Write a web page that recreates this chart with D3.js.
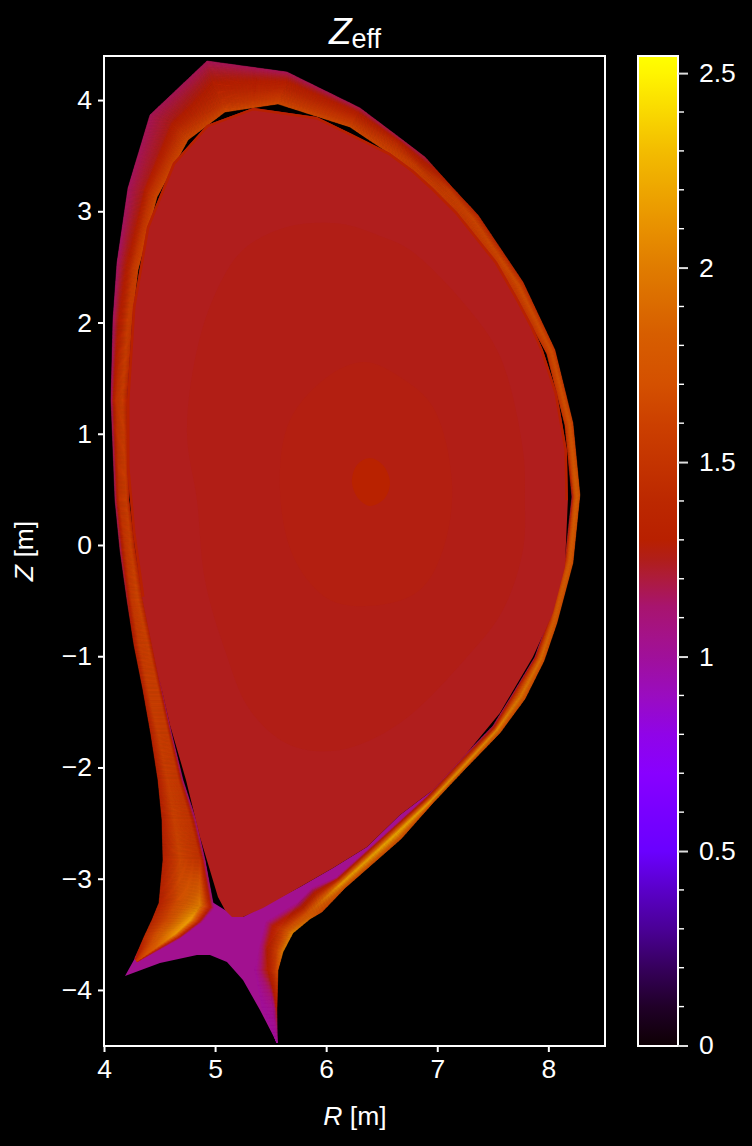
<!DOCTYPE html>
<html><head><meta charset="utf-8">
<script src="https://cdn.jsdelivr.net/npm/d3@7"></script>
<style>html,body{margin:0;padding:0;background:#000}svg{display:block}text{font-family:"Liberation Sans",Arial,sans-serif;fill:#fff}</style>
</head><body><svg id="c" width="752" height="1146"></svg>
<script>
// tick values
const rTicks=[4,5,6,7,8], zTicks=[-4,-3,-2,-1,0,1,2,3,4];
const cbMajor=[0,0.5,1,1.5,2,2.5];
const cbMinor=[0.1,0.2,0.3,0.4,0.6,0.7,0.8,0.9,1.1,1.2,1.3,1.4,1.6,1.7,1.8,1.9,2.1,2.2,2.3,2.4];
// colormap
const cmapValues=[0,0.1,0.2,0.3,0.4,0.5,0.6,0.7,0.8,0.9,1.0,1.05,1.13,1.21,1.25,1.3,1.4,1.5,1.6,1.7,1.83,2,2.1,2.3,2.5,2.544];
const cmapColors=["#0e0004","#200028","#36005c","#4a0096","#5a00c8","#6a00ff","#7800ff","#8800ff","#9004e8","#9a0cc0","#a0109a","#a4128a","#a8146e","#ae1c36","#b01e1a","#b82000","#bc2800","#c43400","#cc4000","#d45000","#d75e00","#e07c00","#e89000","#f3bc00","#fff500","#ffff00"];
// mesh rows of the edge region, each node [R, Z, Zeff], from outer target around to inner target
const rowSep=[[5.557,-4.477,1],[5.422,-4.153,1],[5.359,-3.821,1],[5.404,-3.596,1.05],[5.458,-3.389,1.05],[5.737,-3.218,1.05],[5.872,-3.083,1.05],[6.088,-2.994,1.05],[6.592,-2.544,1.05],[6.907,-2.256,1.05],[7.204,-1.933,1.05],[7.501,-1.627,1.1],[7.69,-1.321,1.1],[7.879,-1.007,1.1],[8.005,-0.656,1.1],[8.149,-0.135,1.15],[8.212,0.432,1.1],[8.149,1.079,1.5],[7.987,1.717,1.5],[7.672,2.302,1.55],[7.267,2.868,1.55],[7.024,3.11,1.6],[6.763,3.38,1.6],[6.601,3.497,1.65],[6.214,3.758,1.68],[5.566,3.965,1.68],[5.089,3.893,1.68],[4.756,3.641,1.68],[4.477,3.128,1.68],[4.306,2.472,1.65],[4.252,2.023,1.55],[4.207,1.304,1.35],[4.225,0.405,1.35],[4.279,-0.045,1.35],[4.351,-0.494,1.35],[4.441,-0.899,1.2],[4.522,-1.304,1.1],[4.612,-1.708,1.07],[4.711,-2.113,1.05],[4.828,-2.472,1.05],[4.909,-2.832,1.05],[4.99,-3.263,1.05],[4.882,-3.389,1.05],[4.684,-3.533,1.1],[4.297,-3.749,1.1]];
const rowA=[[5.557,-4.477,1],[5.53,-4.153,1.05],[5.476,-3.821,1.3],[5.476,-3.614,1.3],[5.539,-3.434,1.35],[5.782,-3.272,1.35],[5.908,-3.146,1.4],[6.106,-3.012,1.4],[6.601,-2.562,1.45],[6.925,-2.274,1.5],[7.222,-1.951,1.45],[7.519,-1.645,1.45],[7.708,-1.33,1.45],[7.897,-1.016,1.5],[8.023,-0.665,1.5],[8.167,-0.135,1.55],[8.23,0.432,1.6],[8.167,1.079,1.6],[8.005,1.726,1.6],[7.699,2.319,1.6],[7.294,2.904,1.6],[7.06,3.146,1.6],[6.799,3.416,1.6],[6.619,3.542,1.6],[6.241,3.803,1.55],[5.584,4.028,1.55],[5.062,3.974,1.5],[4.684,3.713,1.5],[4.414,3.164,1.5],[4.261,2.49,1.55],[4.216,2.023,1.6],[4.162,1.304,1.6],[4.198,0.405,1.6],[4.243,-0.045,1.62],[4.306,-0.494,1.65],[4.396,-0.899,1.62],[4.486,-1.304,1.6],[4.576,-1.708,1.58],[4.666,-2.113,1.55],[4.774,-2.472,1.52],[4.864,-2.832,1.5],[4.864,-3.236,2],[4.774,-3.371,2.2],[4.639,-3.497,2.15],[4.297,-3.74,1.6]];
const rowB=[[5.557,-4.477,1],[5.548,-4.153,1.25],[5.539,-3.821,1.55],[5.557,-3.641,1.6],[5.638,-3.461,1.7],[5.818,-3.326,1.75],[5.935,-3.227,1.9],[6.133,-3.048,2.2],[6.628,-2.598,2.25],[6.943,-2.301,2.2],[7.249,-1.978,2.15],[7.537,-1.663,2.1],[7.753,-1.357,2],[7.933,-1.025,1.95],[8.05,-0.683,1.85],[8.194,-0.144,1.85],[8.257,0.44,1.85],[8.194,1.088,1.75],[8.032,1.735,1.7],[7.735,2.337,1.7],[7.33,2.931,1.65],[7.105,3.191,1.6],[6.844,3.452,1.35],[6.646,3.605,1.45],[6.268,3.857,1.4],[5.638,4.135,1.35],[4.981,4.153,1.3],[4.594,3.803,1.25],[4.351,3.191,1.25],[4.207,2.517,1.3],[4.153,2.023,1.35],[4.108,1.304,1.5],[4.135,0.405,1.5],[4.189,-0.045,1.52],[4.243,-0.494,1.55],[4.315,-0.899,1.58],[4.396,-1.304,1.6],[4.486,-1.708,1.6],[4.567,-2.113,1.6],[4.63,-2.472,1.62],[4.684,-2.832,1.65],[4.666,-3.191,1.7],[4.576,-3.371,1.7],[4.486,-3.506,1.8],[4.288,-3.731,1.5]];
const rowWall=[[5.557,-4.477,1],[5.557,-4.153,1.3],[5.566,-3.821,1.7],[5.611,-3.659,2],[5.701,-3.488,2.05],[5.854,-3.362,1.9],[5.962,-3.299,1.65],[6.169,-3.084,1.7],[6.673,-2.643,1.7],[6.961,-2.319,1.7],[7.267,-1.996,1.7],[7.564,-1.69,1.7],[7.789,-1.384,1.7],[7.96,-1.043,1.7],[8.077,-0.701,1.7],[8.221,-0.162,1.7],[8.284,0.45,1.7],[8.221,1.097,1.6],[8.059,1.753,1.55],[7.771,2.364,1.45],[7.366,2.967,1.4],[7.132,3.218,1.4],[6.889,3.488,1.18],[6.664,3.659,1.17],[6.304,3.929,1.17],[5.647,4.252,1.16],[4.927,4.351,1.16],[4.414,3.866,1.16],[4.216,3.209,1.15],[4.117,2.535,1.14],[4.081,2.023,1.14],[4.063,1.304,1.14],[4.099,0.405,1.14],[4.144,-0.045,1.16],[4.207,-0.494,1.2],[4.27,-0.899,1.3],[4.351,-1.304,1.35],[4.423,-1.708,1.35],[4.486,-2.113,1.35],[4.522,-2.472,1.35],[4.531,-2.832,1.35],[4.495,-3.218,1.35],[4.432,-3.371,1.4],[4.36,-3.524,1.45],[4.279,-3.713,1.2]];
// private flux region outline [R,Z]
const privateOutline=[[4.189,-3.875],[4.504,-3.758],[4.837,-3.686],[4.954,-3.686],[5.107,-3.749],[5.251,-3.911],[5.404,-4.18],[5.557,-4.477],[5.449,-3.641],[5.737,-3.23],[5.872,-3.1],[6.088,-3.01],[6.592,-2.55],[6.907,-2.262],[6.961,-2.203],[6.664,-2.427],[6.367,-2.715],[6.061,-2.904],[5.764,-3.075],[5.251,-3.344],[5.089,-3.281],[4.945,-3.191],[4.909,-3.236],[4.279,-3.713]];
const privateValue=1.03;
// core contours [R,Z]
const coreEdge=[[5.152,-3.344],[5.251,-3.344],[5.431,-3.263],[5.764,-3.075],[6.061,-2.904],[6.367,-2.715],[6.664,-2.427],[6.961,-2.203],[7.267,-1.87],[7.564,-1.51],[7.861,-1.007],[8.041,-0.611],[8.149,-0.198],[8.176,0.405],[8.167,0.854],[8.077,1.366],[7.951,1.753],[7.861,1.96],[7.717,2.23],[7.537,2.544],[7.357,2.769],[7.177,2.994],[6.961,3.209],[6.781,3.371],[6.574,3.524],[6.214,3.704],[5.917,3.848],[5.341,3.929],[4.927,3.776],[4.621,3.434],[4.387,2.859],[4.261,2.14],[4.207,1.304],[4.207,0.701],[4.261,0.108],[4.342,-0.467],[4.459,-1.034],[4.594,-1.618],[4.738,-2.113],[4.864,-2.625],[5.026,-3.164],[5.089,-3.281]];
const coreRim=coreEdge.slice(13,36);
const coreMid=[[5.647,2.859],[6.124,2.887],[6.484,2.778],[6.754,2.652],[7.267,2.14],[7.564,1.699],[7.771,0.854],[7.789,0.405],[7.771,-0.045],[7.591,-0.584],[7.267,-1.007],[6.664,-1.6],[6.124,-1.843],[5.674,-1.798],[5.314,-1.483],[5.089,-0.944],[4.909,-0.315],[4.837,0.405],[4.747,1.007],[4.837,1.753],[5.017,2.292],[5.251,2.652]];
const coreInner=[[6.349,1.645],[6.664,1.51],[6.961,1.241],[7.132,0.557],[7.051,-0.045],[6.844,-0.405],[6.484,-0.539],[6.034,-0.494],[5.719,-0.135],[5.584,0.494],[5.674,1.124],[6.034,1.528]];
const coreSpot=[[6.394,0.782],[6.511,0.719],[6.574,0.566],[6.529,0.423],[6.394,0.351],[6.286,0.423],[6.232,0.566],[6.277,0.719]];
const coreValues=[1.245,1.258,1.268,1.32];
const rimValue=1.31;

const W=752,H=1146;
const svg=d3.select("#c");
const color=d3.scaleLinear().domain(cmapValues).range(cmapColors).interpolate(d3.interpolateRgb).clamp(true);
const x=d3.scaleLinear().domain([4,8.51]).range([104,605]);
const y=d3.scaleLinear().domain([-4.504,4.396]).range([1046,56]);
const cb=d3.scaleLinear().domain([0,2.544]).range([1045.5,56]);

svg.append("rect").attr("width",W).attr("height",H).attr("fill","#000");
const defs=svg.append("defs");
defs.append("clipPath").attr("id","plot").append("rect").attr("x",104).attr("y",56).attr("width",501).attr("height",990);
const line=d3.line().x(d=>x(d[0])).y(d=>y(d[1]));
defs.append("clipPath").attr("id","coreClip").append("path").attr("d",line(coreEdge)+"Z");
const g=svg.append("g").attr("clip-path","url(#plot)");

// private flux region
g.append("path").attr("d",line(privateOutline)+"Z").attr("fill",color(privateValue));

// edge mesh, shaded cell by cell
const rows=[rowSep,rowA,rowB,rowWall];
const lerp=(a,b,t)=>a+(b-a)*t;
const node=(a,b,t)=>[lerp(a[0],b[0],t),lerp(a[1],b[1],t),lerp(a[2],b[2],t)];
const dist=(a,b)=>Math.hypot(x(a[0])-x(b[0]),y(a[1])-y(b[1]));
const cells=[];
for(let j=0;j<rows.length-1;j++){
  for(let i=0;i<rows[j].length-1;i++){
    const a=rows[j][i],b=rows[j][i+1],c=rows[j+1][i+1],e=rows[j+1][i];
    const nu=Math.min(20,Math.max(2,Math.ceil(Math.max(dist(a,b),dist(e,c))/4)));
    const nv=Math.min(24,Math.max(2,Math.ceil(Math.max(dist(a,e),dist(b,c))/1)));
    for(let u=0;u<nu;u++)for(let v=0;v<nv;v++){
      const p=(s,t)=>node(node(a,b,s),node(e,c,s),t);
      const q=[p(u/nu,v/nv),p((u+1)/nu,v/nv),p((u+1)/nu,(v+1)/nv),p(u/nu,(v+1)/nv)];
      cells.push({q,v:d3.mean(q,d=>d[2])});
    }
  }
}
g.append("g").selectAll("path").data(cells).join("path")
  .attr("d",d=>line(d.q)+"Z")
  .attr("fill",d=>color(d.v)).attr("stroke",d=>color(d.v)).attr("stroke-width",0.5);

// core
const closed=d3.line().x(d=>x(d[0])).y(d=>y(d[1])).curve(d3.curveCatmullRomClosed.alpha(0.5));
g.append("path").attr("d",line(coreEdge)+"Z").attr("fill",color(coreValues[0]));
g.append("path").attr("d",line(coreRim)).attr("fill","none").attr("stroke",color(rimValue)).attr("stroke-width",5).attr("clip-path","url(#coreClip)");
[coreMid,coreInner,coreSpot].forEach((c,i)=>{
  g.append("path").attr("d",closed(c)).attr("fill",color(coreValues[i+1]));
});

// frame and axes
const fs=26.5;
const ff='"Liberation Sans",Arial,sans-serif';
svg.append("rect").attr("x",104).attr("y",56).attr("width",501).attr("height",990).attr("fill","none").attr("stroke","#fff").attr("stroke-width",2);
function style(a){
  a.select(".domain").remove();
  a.selectAll(".tick line").attr("stroke","#fff").attr("stroke-width",2);
  a.selectAll(".tick text").style("font-size",fs+"px").style("fill","#fff").style("font-family",ff);
}
svg.append("g").attr("transform","translate(0,1046)")
  .call(d3.axisBottom(x).tickValues(rTicks).tickSize(6).tickPadding(7).tickFormat(d3.format("d"))).call(style);
svg.append("g").attr("transform","translate(104,0)")
  .call(d3.axisLeft(y).tickValues(zTicks).tickSize(6).tickPadding(6).tickFormat(d3.format("d"))).call(style);

// titles
const title=svg.append("text").attr("x",355).attr("y",44).attr("text-anchor","middle");
title.append("tspan").text("Z").style("font-style","italic").style("font-size","37px");
title.append("tspan").text("eff").attr("dy",4).style("font-size","27px");
const xl=svg.append("text").attr("x",355).attr("y",1125).attr("text-anchor","middle").style("font-size",fs+"px");
xl.append("tspan").text("R").style("font-style","italic");xl.append("tspan").text(" [m]");
const yl=svg.append("text").attr("transform","translate(33,551) rotate(-90)").attr("text-anchor","middle").style("font-size",fs+"px");
yl.append("tspan").text("Z").style("font-style","italic");yl.append("tspan").text(" [m]");

// colorbar
const grad=defs.append("linearGradient").attr("id","cbg").attr("x1",0).attr("y1",1).attr("x2",0).attr("y2",0);
grad.selectAll("stop").data(cmapValues).join("stop")
  .attr("offset",d=>d/2.544).attr("stop-color",(d,i)=>cmapColors[i]);
svg.append("rect").attr("x",638).attr("y",56).attr("width",40).attr("height",990).attr("fill","url(#cbg)").attr("stroke","#fff").attr("stroke-width",2);
const cbAxis=svg.append("g").attr("transform","translate(678,0)")
  .call(d3.axisRight(cb).tickValues(cbMajor).tickSize(10).tickPadding(11).tickFormat(d3.format("~g")));
cbAxis.select(".domain").remove();
cbAxis.selectAll(".tick line").attr("stroke","#ddd").attr("stroke-width",2);
cbAxis.selectAll(".tick text").style("font-size",fs+"px").style("fill","#fff").style("font-family",ff);
svg.append("g").attr("transform","translate(678,0)").selectAll("line").data(cbMinor).join("line")
  .attr("x1",0).attr("x2",6).attr("y1",d=>cb(d)).attr("y2",d=>cb(d)).attr("stroke","#fff").attr("stroke-width",1.4);
</script></body></html>
